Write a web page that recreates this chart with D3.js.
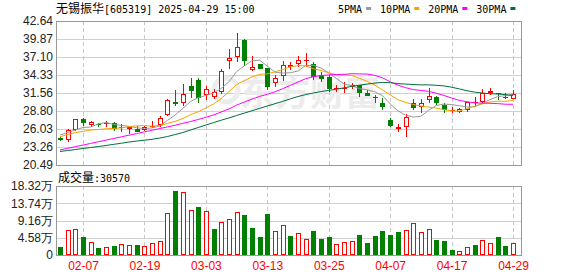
<!DOCTYPE html>
<html><head><meta charset="utf-8">
<script src="https://cdn.jsdelivr.net/npm/d3@7/dist/d3.min.js"></script>
<style>html,body{margin:0;padding:0;background:#fff;}svg{display:block}</style>
</head><body><svg id="c" width="578" height="276"></svg>
<script>
// ---------- data ----------
const dates = ["01-27","02-05","02-06","02-07","02-10","02-11","02-12","02-13","02-14","02-17","02-18","02-19",
"02-20","02-21","02-24","02-25","02-26","02-27","02-28","03-03","03-04","03-05","03-06","03-07","03-10","03-11","03-12","03-13",
"03-14","03-17","03-18","03-19","03-20","03-21","03-24","03-25","03-26","03-27","03-28","03-31","04-01","04-02","04-03","04-07",
"04-08","04-09","04-10","04-11","04-14","04-15","04-16","04-17","04-18","04-21","04-22","04-23","04-24","04-25","04-28","04-29"];
const openP  = [24.60,24.34,25.87,27.52,26.60,26.79,26.79,26.90,26.38,26.03,26.03,25.87,26.26,26.64,28.18,30.18,29.95,32.64,33.56,31.30,
30.99,31.67,36.56,37.03,39.71,35.10,35.95,35.41,33.06,34.18,35.52,35.95,36.44,36.10,34.30,33.95,32.13,32.26,32.49,32.72,
31.56,30.90,30.03,27.37,26.07,26.26,29.98,29.37,30.49,30.99,29.72,28.84,28.69,28.95,29.98,30.23,31.61,31.52,30.75,30.60];
const highP  = [24.80,26.03,27.64,27.77,27.26,27.00,27.21,27.15,26.79,26.49,26.49,26.49,27.26,28.03,30.64,32.03,32.95,33.83,33.87,32.59,
32.18,35.26,38.29,40.79,39.87,37.21,36.03,35.41,34.33,36.44,36.38,37.26,37.76,36.38,34.79,34.26,32.79,33.26,33.15,32.79,
32.03,31.21,30.75,27.77,26.79,28.41,30.60,30.60,32.29,31.10,29.98,29.46,29.21,30.23,30.90,32.13,32.29,31.56,31.61,32.03];
const lowP   = [24.18,23.98,25.76,26.53,26.38,26.38,26.38,25.72,25.61,25.26,25.57,25.72,26.18,26.38,28.03,29.56,29.56,30.80,30.03,30.53,
30.64,31.41,35.26,36.41,35.72,34.90,35.26,32.03,32.49,33.41,35.10,35.56,35.64,33.56,33.26,31.76,31.72,31.56,32.13,30.99,
31.10,30.07,28.99,26.38,25.61,24.80,28.95,28.53,29.98,29.72,28.53,28.53,28.53,28.69,29.46,30.07,31.26,30.49,30.60,30.60];
const closeP = [24.29,25.87,27.52,26.90,27.10,26.64,26.95,26.03,26.23,26.26,25.64,26.29,26.56,27.77,30.49,29.80,31.36,31.87,30.72,32.18,
31.67,34.90,36.95,38.59,36.53,35.64,35.33,32.49,33.83,35.90,35.87,36.64,36.67,34.07,33.79,32.15,32.29,32.41,32.80,31.56,
31.18,30.79,29.46,26.44,26.29,27.83,29.30,29.98,31.10,29.98,28.95,28.92,29.06,30.15,30.13,31.52,31.87,31.36,30.90,31.41];
const volume = [22000,66400,69000,48600,34500,19400,22000,24700,29200,26500,26500,23900,31900,37200,110700,170700,166500,119500,128200,116800,
69000,86800,95600,113400,106200,72500,48600,108900,63700,79700,50400,57600,42500,63700,42500,47800,28400,33700,37200,53100,
31900,50400,63700,53100,61100,66400,84200,60300,69000,39800,37200,13300,9800,20400,26500,39000,31100,47800,23900,30570];
// moving-average values before a full window of closes is on the chart
const ma5Head  = [25.10,25.49,25.87,26.26];
const ma10Head = [24.84,25.18,25.46,25.67,25.87,25.95,26.06,26.13,26.21];
const ma20Head = [22.80,23.05,23.31,23.56,23.81,24.07,24.32,24.57,24.83,25.08,25.33,25.59,25.84,26.10,26.35,26.60,26.90,27.18,27.49];
const ma30Head = [22.57,22.72,22.87,23.03,23.18,23.34,23.49,23.67,23.84,24.03,24.17,24.31,24.44,24.64,24.87,25.18,25.49,25.87,26.26,
26.64,27.01,27.38,27.73,28.10,28.47,28.83,29.20,29.57,29.92];
const maPeriods = [5,10,20,30];
const maLabels = ["5PMA","10PMA","20PMA","30PMA"];
const priceTicks = [42.64,39.87,37.10,34.33,31.56,28.80,26.03,23.26,20.49];
const volTicks = [0,45800,91600,137400,183200];
const volTickLabels = ["0","4.58万","9.16万","13.74万","18.32万"];
const dateTicks = ["02-07","02-19","03-03","03-13","03-25","04-07","04-17","04-29"];
const titleName = "无锡振华", titleRest = "[605319] 2025-04-29 15:00";
const volName = "成交量", volRest = ":30570";

// ---------- layout / style ----------
const L = 56, R = 522, PT = 21, PB = 165, VT = 186, VB = 255;
const RED = "#ff0000", GREEN = "#008000";
const maColors = ["#999999","#f5a300","#ff00ff","#006f3a"];
const mono = "'DejaVu Sans Mono', monospace";
const cjk = "'Noto Sans CJK SC', sans-serif";
const sans = "'Liberation Sans', Arial, sans-serif";

const svg = d3.select("#c");
const x = d3.scalePoint().domain(dates).range([L + 4, R - 9]);
const y = d3.scaleLinear().domain([20.49, 42.64]).range([PB, PT]);
const yv = d3.scaleLinear().domain([0, 183200]).range([VB, VT]);
const px = d => Math.round(x(d)) + 0.5;

// grid
const grid = svg.append("g");
grid.selectAll("line.h").data(priceTicks.slice(1, -1)).join("line")
  .attr("x1", L).attr("x2", R).attr("y1", d => Math.round(y(d)) + 0.5).attr("y2", d => Math.round(y(d)) + 0.5)
  .attr("stroke", "#d0d0d0");
grid.selectAll("line.vh").data(volTicks.slice(1, -1)).join("line")
  .attr("x1", L).attr("x2", R).attr("y1", d => Math.round(yv(d)) + 0.5).attr("y2", d => Math.round(yv(d)) + 0.5)
  .attr("stroke", "#d0d0d0");
[[PT, PB], [VT, VB]].forEach(([t, b]) => {
  grid.append("g").selectAll("line").data(dateTicks).join("line")
    .attr("x1", px).attr("x2", px).attr("y1", t).attr("y2", b)
    .attr("stroke", "#c8c8c8").attr("stroke-dasharray", "4,3");
});

// watermark
const wm = svg.append("g").attr("fill", "#ececec");
wm.append("circle").attr("cx", 226).attr("cy", 90).attr("r", 12).attr("fill", "none").attr("stroke", "#ececec").attr("stroke-width", 5);
wm.append("text").attr("x", 240).attr("y", 106).attr("font-family", cjk).attr("font-size", 35).attr("font-weight", "bold").text("东方财富");

// borders
const bd = svg.append("g").attr("fill", "none").attr("stroke", "#999");
bd.append("rect").attr("x", L + 0.5).attr("y", PT + 0.5).attr("width", R - L - 1).attr("height", PB - PT);
bd.append("rect").attr("x", L + 0.5).attr("y", VT + 0.5).attr("width", R - L - 1).attr("height", VB - VT);

// candles
const idx = d3.range(dates.length);
const cg = svg.append("g");
idx.forEach(i => {
  const d = dates[i], c = px(d), up = closeP[i] >= openP[i], col = up ? RED : GREEN;
  let top = Math.round(y(Math.max(openP[i], closeP[i]))), bot = Math.round(y(Math.min(openP[i], closeP[i])));
  const yh = Math.round(y(highP[i])), yl = Math.round(y(lowP[i]));
  if (bot - top < 1) bot = top + 1;
  if (up && bot - top > 2) {
    cg.append("line").attr("x1", c).attr("x2", c).attr("y1", yh).attr("y2", top).attr("stroke", col);
    cg.append("line").attr("x1", c).attr("x2", c).attr("y1", bot).attr("y2", yl).attr("stroke", col);
    cg.append("rect").attr("x", c - 2).attr("y", top + 0.5).attr("width", 4).attr("height", bot - top - 1)
      .attr("fill", "#fff").attr("stroke", col);
  } else {
    cg.append("line").attr("x1", c).attr("x2", c).attr("y1", yh).attr("y2", yl).attr("stroke", col);
    cg.append("rect").attr("x", c - 2.5).attr("y", top).attr("width", 5).attr("height", bot - top).attr("fill", col);
  }
});

// moving averages
const maSeries = maPeriods.map((p, k) => {
  const head = [ma5Head, ma10Head, ma20Head, ma30Head][k];
  return closeP.map((v, i) => i < p - 1 ? head[i] : d3.mean(closeP.slice(i - p + 1, i + 1)));
});
const line = d3.line().x((v, i) => x(dates[i])).y(v => y(v));
svg.append("g").selectAll("path").data(maSeries).join("path")
  .attr("d", line).attr("fill", "none").attr("stroke", (s, k) => maColors[k]).attr("stroke-width", 1);

// volume bars
const vg = svg.append("g");
idx.forEach(i => {
  const c = px(dates[i]);
  const up = i === 0 ? closeP[i] >= openP[i] : closeP[i] >= closeP[i - 1];
  const top = Math.round(yv(volume[i]));
  if (up) {
    vg.append("rect").attr("x", c - 2).attr("y", top + 0.5).attr("width", 4).attr("height", VB - top - 1)
      .attr("fill", "#fff").attr("stroke", RED);
  } else {
    vg.append("rect").attr("x", c - 2.5).attr("y", top).attr("width", 5).attr("height", VB - top).attr("fill", GREEN);
  }
});

// axes
const ay = svg.append("g").attr("transform", `translate(${L},0)`)
  .call(d3.axisLeft(y).tickValues(priceTicks).tickSize(0).tickPadding(3).tickFormat(d3.format(".2f")));
const av = svg.append("g").attr("transform", `translate(${L},0)`)
  .call(d3.axisLeft(yv).tickValues(volTicks).tickSize(0).tickPadding(3).tickFormat((d, i) => volTickLabels[i]));
const ax = svg.append("g").attr("transform", `translate(0,${VB})`)
  .call(d3.axisBottom(x).tickValues(dateTicks).tickSize(0).tickPadding(6.5));
[ay, av, ax].forEach(a => { a.select(".domain").remove(); a.selectAll("text").attr("font-family", sans).attr("font-size", 12).attr("fill", "#222"); });
ax.selectAll("text").attr("fill", RED);

// title
const t = svg.append("text").attr("x", L).attr("y", 13).attr("fill", "#000");
t.append("tspan").attr("font-family", cjk).attr("font-size", 12).text(titleName);
t.append("tspan").attr("font-family", mono).attr("font-size", 10).text(titleRest);

const vt = svg.append("text").attr("x", L + 2).attr("y", 182).attr("fill", "#000");
vt.append("tspan").attr("font-family", cjk).attr("font-size", 12).text(volName);
vt.append("tspan").attr("font-family", mono).attr("font-size", 10).text(volRest);

// legend
let lx = 338;
maLabels.forEach((lab, k) => {
  const tx = svg.append("text").attr("x", lx).attr("y", 13).attr("font-family", mono).attr("font-size", 10).attr("fill", "#000").text(lab);
  const w = tx.node().getComputedTextLength();
  svg.append("rect").attr("x", lx + w + 4).attr("y", 7).attr("width", 5).attr("height", 3).attr("fill", maColors[k]);
  lx += w + 4 + 5 + 9;
});
</script></body></html>
